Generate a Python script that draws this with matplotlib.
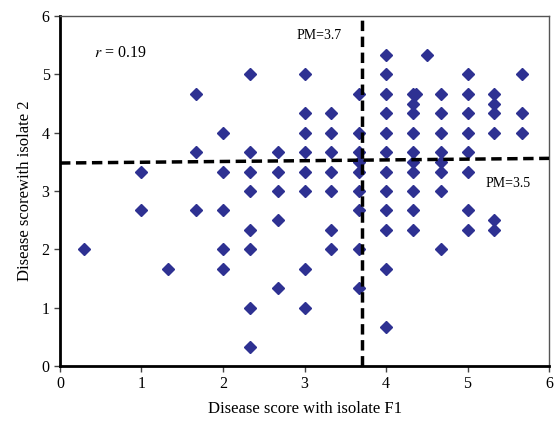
import matplotlib
matplotlib.use("Agg")
import matplotlib.pyplot as plt

plt.rcParams['font.family'] = ['Liberation Serif', 'DejaVu Serif']
plt.rcParams['mathtext.fontset'] = 'stix'

# Data: disease score with isolate F1 (x)
# and disease score with isolate 2 (y), one entry per genotype
x_f1 = [0.3,
        1, 1,
        1.33,
        1.67, 1.67, 1.67,
        2, 2, 2, 2, 2,
        2.33, 2.33, 2.33, 2.33, 2.33, 2.33, 2.33, 2.33,
        2.67, 2.67, 2.67, 2.67, 2.67,
        3, 3, 3, 3, 3, 3, 3, 3,
        3.33, 3.33, 3.33, 3.33, 3.33, 3.33, 3.33,
        3.67, 3.67, 3.67, 3.67, 3.67, 3.67, 3.67, 3.67, 3.67,
        4, 4, 4, 4, 4, 4, 4, 4, 4, 4, 4, 4,
        4.33, 4.37, 4.33, 4.33, 4.33, 4.33, 4.33, 4.33, 4.33, 4.33, 4.33,
        4.5,
        4.67, 4.67, 4.67, 4.67, 4.67, 4.67, 4.67, 4.67,
        5, 5, 5, 5, 5, 5, 5, 5,
        5.33, 5.33, 5.33, 5.33, 5.33, 5.33,
        5.67, 5.67, 5.67]
y_iso2 = [2,
          3.33, 2.67,
          1.67,
          4.67, 3.67, 2.67,
          4, 3.33, 2.67, 2, 1.67,
          5, 3.67, 3.33, 3, 2.33, 2, 1, 0.33,
          3.67, 3.33, 3, 2.5, 1.33,
          5, 4.33, 4, 3.67, 3.33, 3, 1.67, 1,
          4.33, 4, 3.67, 3.33, 3, 2.33, 2,
          4.67, 4, 3.67, 3.5, 3.33, 3, 2.67, 2, 1.33,
          5.33, 5, 4.67, 4.33, 4, 3.67, 3.33, 3, 2.67, 2.33, 1.67, 0.67,
          4.67, 4.67, 4.5, 4.33, 4, 3.67, 3.5, 3.33, 3, 2.67, 2.33,
          5.33,
          4.67, 4.33, 4, 3.67, 3.5, 3.33, 3, 2,
          5, 4.67, 4.33, 4, 3.67, 3.33, 2.67, 2.33,
          4.67, 4.5, 4.33, 4, 2.5, 2.33,
          5, 4.33, 4]

pm_x = 3.7
pm_line_x = [0, 6]
pm_line_y = [3.48, 3.56]

fig = plt.figure(figsize=(5.58, 4.24), dpi=100)
ax = fig.add_axes([0.1075, 0.137, 0.8765, 0.825])

ax.plot(x_f1, y_iso2, linestyle='none', marker='D', markersize=6,
        color='#2e3192', markeredgecolor='#2e3192', zorder=3)

ax.plot([pm_x, pm_x], [0, 6], color='black', linewidth=2.5,
        dashes=(3, 1.6), zorder=4)
ax.plot(pm_line_x, pm_line_y, color='black', linewidth=2.5,
        dashes=(3, 1.6), zorder=4)

ax.set_xlim(0, 6)
ax.set_ylim(0, 6)
ax.set_xticks(range(0, 7))
ax.set_yticks(range(0, 7))
ax.tick_params(axis='both', direction='out', length=4, width=1,
               labelsize=11.5, color='#444444')

for s in ['left', 'bottom']:
    ax.spines[s].set_linewidth(2)
    ax.spines[s].set_color('black')
for s in ['top', 'right']:
    ax.spines[s].set_linewidth(1)
    ax.spines[s].set_color('#555555')

ax.set_xlabel('Disease score with isolate F1', fontsize=12, labelpad=6)
ax.set_ylabel('Disease scorewith isolate 2', fontsize=12, labelpad=6)

ax.text(0.42, 5.37, r'$r$ = 0.19', fontsize=11.5, ha='left', va='center')
ax.text(2.9, 5.66, 'PM=3.7', fontsize=10, ha='left', va='center')
ax.text(5.22, 3.13, 'PM=3.5', fontsize=10, ha='left', va='center')

fig.savefig('out.png', dpi=100)
